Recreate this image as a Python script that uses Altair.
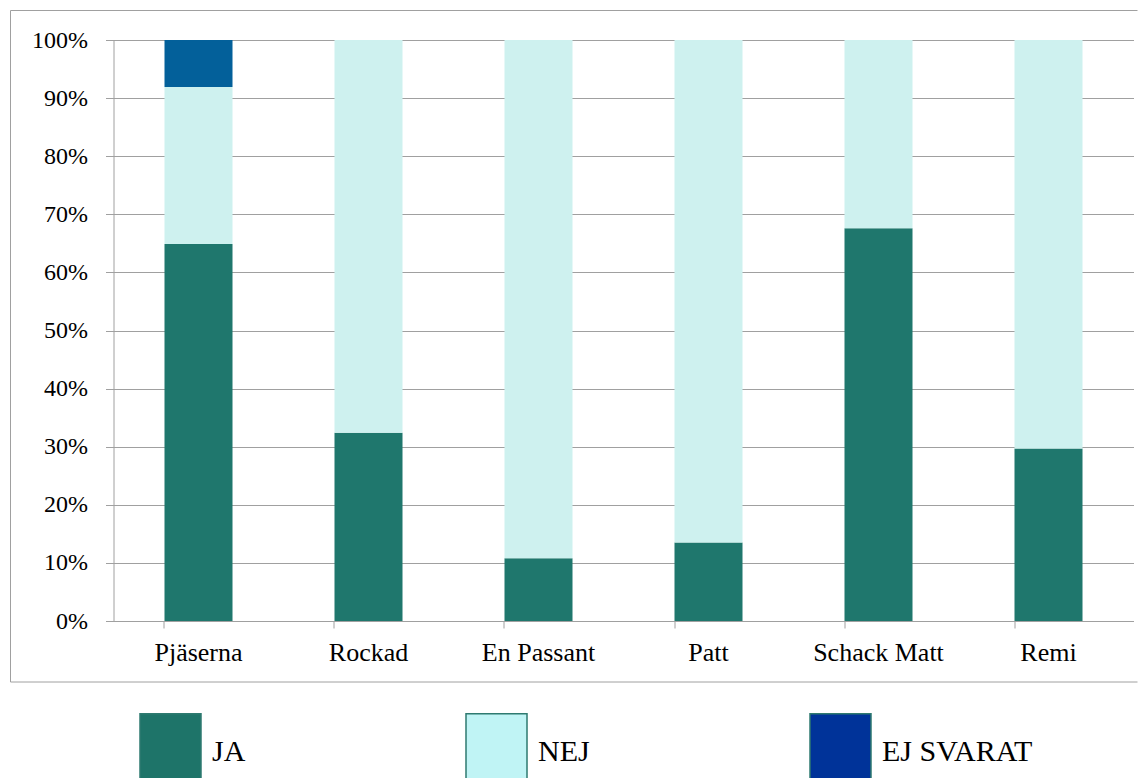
import altair as alt
import pandas as pd

categories = ["Pjäserna", "Rockad", "En Passant", "Patt", "Schack Matt", "Remi"]
answers = ["JA", "NEJ", "EJ SVARAT"]
ja = [0.649, 0.324, 0.108, 0.135, 0.676, 0.297]
nej = [0.270, 0.676, 0.892, 0.865, 0.324, 0.703]
ej = [0.081, 0.0, 0.0, 0.0, 0.0, 0.0]
y_ticks = [0.0, 0.1, 0.2, 0.3, 0.4, 0.5, 0.6, 0.7, 0.8, 0.9, 1.0]

bar_colors = ["#1F776D", "#CEF1EF", "#03609A"]
legend_colors = ["#1E7469", "#C0F4F5", "#003399"]

rows = []
for i, c in enumerate(categories):
    for j, (a, vals) in enumerate(zip(answers, [ja, nej, ej])):
        if vals[i] > 0:
            rows.append({"kategori": c, "svar": a, "andel": vals[i], "ordning": j})
df = pd.DataFrame(rows)

FONT = "Liberation Serif"
GRAY = "#A0A0A0"

one = pd.DataFrame({"f": [0]})
frame_top = alt.Chart(one).mark_rule(color=GRAY, strokeWidth=1).encode(
    x=alt.value(-103), x2=alt.value(1024), y=alt.value(-29.5)
)
frame_left = alt.Chart(one).mark_rule(color=GRAY, strokeWidth=1).encode(
    x=alt.value(-103), y=alt.value(-29.5), y2=alt.value(642)
)
frame_bottom = alt.Chart(one).mark_rule(color=GRAY, strokeWidth=1).encode(
    x=alt.value(-103), x2=alt.value(1024), y=alt.value(642)
)

bars = alt.Chart(df).mark_bar().encode(
    x=alt.X(
        "kategori:N",
        sort=categories,
        scale=alt.Scale(paddingInner=0.6, paddingOuter=0.3),
        axis=alt.Axis(
            title=None, labelAngle=0, labelFont=FONT, labelFontSize=26,
            labelColor="black", domainColor=GRAY, tickColor=GRAY, tickSize=7,
            labelPadding=11, bandPosition=0, grid=False,
        ),
    ),
    y=alt.Y(
        "andel:Q",
        stack="zero",
        scale=alt.Scale(domain=[0, 1], nice=False),
        axis=alt.Axis(
            title=None, format=".0%", values=y_ticks, labelFont=FONT,
            labelFontSize=24, labelColor="black", domainColor=GRAY,
            tickColor=GRAY, tickSize=8, labelPadding=18, gridColor=GRAY,
            grid=True,
        ),
    ),
    color=alt.Color(
        "svar:N", scale=alt.Scale(domain=answers, range=bar_colors), legend=None
    ),
    order=alt.Order("ordning:Q"),
)

legend_layer = alt.Chart(pd.DataFrame({"svar": answers})).mark_square(
    opacity=0
).encode(
    color=alt.Color(
        "svar:N",
        sort=answers,
        scale=alt.Scale(domain=answers, range=legend_colors),
        legend=alt.Legend(
            title=None, orient="none", legendX=25.5, legendY=680,
            direction="horizontal", symbolType="M-1,-1.25H1V1.7H-1Z",
            symbolSize=3721, symbolOpacity=1, symbolStrokeColor="#2E7A70",
            symbolStrokeWidth=1.5, labelFont=FONT, labelFontSize=30,
            labelColor="black", labelOffset=10, columnPadding=217,
            labelLimit=400, padding=0,
        ),
    )
)

chart = alt.layer(frame_top, frame_left, frame_bottom, bars, legend_layer).resolve_scale(
    color="independent"
).properties(
    width=1020, height=581,
    padding={"left": 1.5, "top": 2, "right": 0, "bottom": 0},
).configure_view(strokeWidth=0)

chart.save("out.html", embed_options={"renderer": "svg", "actions": False})
